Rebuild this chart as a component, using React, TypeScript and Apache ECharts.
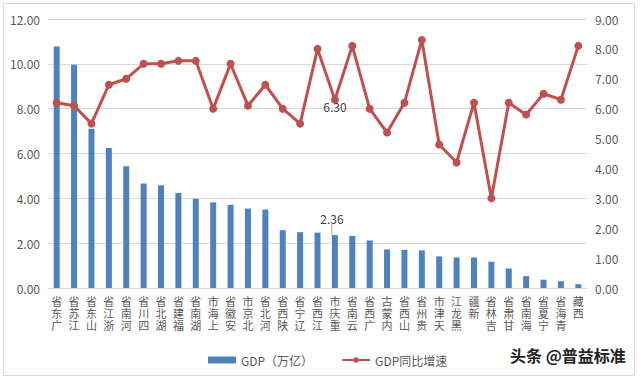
import React, { useEffect, useRef } from "react";
import * as echarts from "echarts";

const provinces = [
  "广东省", "江苏省", "山东省", "浙江省", "河南省", "四川省", "湖北省", "福建省",
  "湖南省", "上海市", "安徽省", "北京市", "河北省", "陕西省", "辽宁省", "江西省",
  "重庆市", "云南省", "广西省", "内蒙古", "山西省", "贵州省", "天津市", "黑龙江",
  "新疆", "吉林省", "甘肃省", "海南省", "宁夏省", "青海省", "西藏",
];

const gdp = [
  10.77, 9.96, 7.1, 6.24, 5.43, 4.66, 4.58, 4.24, 3.98, 3.82, 3.71, 3.54, 3.5,
  2.58, 2.49, 2.47, 2.36, 2.32, 2.12, 1.72, 1.7, 1.68, 1.41, 1.36, 1.36, 1.17,
  0.87, 0.53, 0.37, 0.3, 0.17,
];

const growth = [
  6.2, 6.1, 5.5, 6.8, 7.0, 7.5, 7.5, 7.6, 7.6, 6.0, 7.5, 6.1, 6.8, 6.0, 5.5,
  8.0, 6.3, 8.1, 6.0, 5.2, 6.2, 8.3, 4.8, 4.2, 6.2, 3.0, 6.2, 5.8, 6.5, 6.3, 8.1,
];

const labeledIndex = 16; // 重庆市

const leftTicks = { min: 0, max: 12, interval: 2 };
const rightTicks = { min: 0, max: 9, interval: 1 };

const FONT = "'Noto Sans CJK SC', 'Noto Sans', sans-serif";

export default function App() {
  const ref = useRef<HTMLDivElement>(null);

  useEffect(() => {
    if (!ref.current) return;
    const chart = echarts.init(ref.current, undefined, { renderer: "svg" });

    const barData = gdp.map((v, i) =>
      i === labeledIndex
        ? {
            value: v,
            label: {
              show: true,
              position: "top",
              distance: 2,
              formatter: (p: any) => p.value.toFixed(2),
              color: "#404040",
              fontSize: 12,
              fontFamily: FONT,
            },
          }
        : v
    );

    const lineData = growth.map((v, i) =>
      i === labeledIndex
        ? {
            value: v,
            label: {
              show: true,
              position: "bottom",
              distance: 0,
              offset: [0, -3],
              formatter: (p: any) => p.value.toFixed(2),
              color: "#404040",
              fontSize: 12,
              fontFamily: FONT,
            },
          }
        : v
    );

    chart.setOption({
      animation: false,
      textStyle: { fontFamily: FONT },
      grid: { left: 48, right: 53, top: 19, bottom: 92 },
      legend: {
        left: 203,
        top: 349,
        itemWidth: 28,
        itemHeight: 7,
        itemGap: 28,
        textStyle: { fontSize: 12, color: "#595959", fontFamily: FONT },
        data: [
          { name: "GDP（万亿）", icon: "rect" },
          { name: "GDP同比增速" },
        ],
      },
      xAxis: {
        type: "category",
        data: provinces,
        axisLine: { lineStyle: { color: "#d9d9d9" } },
        axisTick: { show: false },
        axisLabel: {
          interval: 0,
          color: "#595959",
          fontSize: 11,
          lineHeight: 12,
          verticalAlign: "top",
          margin: 7,
          formatter: (v: string) => v.split("").reverse().join("\n"),
        },
      },
      yAxis: [
        {
          type: "value",
          ...leftTicks,
          axisLine: { show: false },
          axisTick: { show: false },
          splitLine: { lineStyle: { color: "#d9d9d9" } },
          axisLabel: {
            color: "#595959",
            fontSize: 12,
            margin: 8,
            formatter: (v: number) => v.toFixed(2),
          },
        },
        {
          type: "value",
          ...rightTicks,
          axisLine: { show: false },
          axisTick: { show: false },
          splitLine: { show: false },
          axisLabel: {
            color: "#595959",
            fontSize: 12,
            margin: 8,
            formatter: (v: number) => v.toFixed(2),
          },
        },
      ],
      series: [
        {
          name: "GDP（万亿）",
          type: "bar",
          yAxisIndex: 0,
          barWidth: 6,
          itemStyle: { color: "#4f81bd" },
          labelLayout: (p: any) =>
            p.dataIndex === labeledIndex ? { dx: -3, dy: -9 } : {},
          labelLine: { show: true, length2: 0, lineStyle: { color: "#a6a6a6", width: 1 } },
          data: barData,
        },
        {
          name: "GDP同比增速",
          type: "line",
          yAxisIndex: 1,
          symbol: "circle",
          symbolSize: 8,
          lineStyle: { color: "#c0504d", width: 3 },
          itemStyle: { color: "#c0504d" },
          data: lineData,
        },
      ],
      graphic: [
        {
          type: "rect",
          shape: { x: 3.5, y: 3.5, width: 631, height: 372 },
          style: { fill: "none", stroke: "#d9d9d9", lineWidth: 1 },
          silent: true,
        },
        {
          type: "text",
          left: 510,
          top: 347,
          style: {
            text: "头条 @普益标准",
            fontSize: 16,
            fontWeight: "bold",
            fill: "#222222",
            fontFamily: FONT,
          },
        },
      ],
    });

    return () => chart.dispose();
  }, []);

  return (
    <div
      ref={ref}
      style={{ position: "fixed", left: 0, top: 0, width: 640, height: 380, background: "#fff" }}
    />
  );
}
